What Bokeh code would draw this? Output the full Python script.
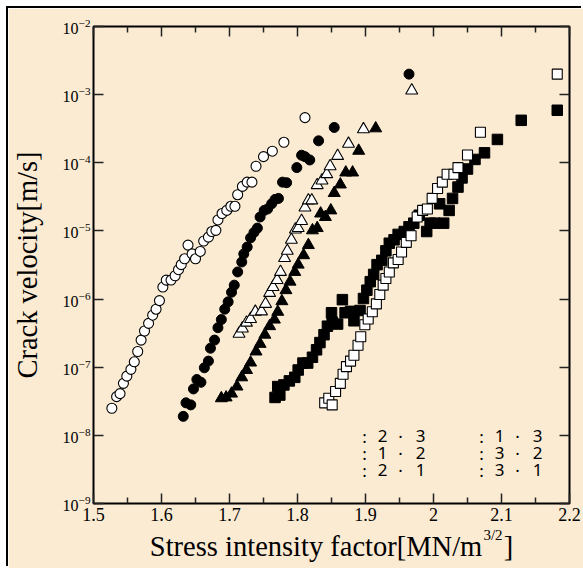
from bokeh.plotting import figure
from bokeh.models import (FixedTicker, LinearAxis, LogAxis, Label, Range1d,
                          CustomJSTickFormatter, LogTickFormatter)
from bokeh.embed import file_html
from bokeh.resources import INLINE

# ---------------- data ----------------
x_ticks = [1.5, 1.6, 1.7, 1.8, 1.9, 2.0, 2.1, 2.2]
x_tick_labels = ["1.5", "1.6", "1.7", "1.8", "1.9", "2", "2.1", "2.2"]
x_minor_ticks = [1.55, 1.65, 1.75, 1.85, 1.95, 2.05, 2.15]
y_tick_exponents = [-9, -8, -7, -6, -5, -4, -3, -2]

open_circle_x = [1.527, 1.534, 1.539, 1.544, 1.549, 1.555, 1.560, 1.565, 1.570, 1.575,
                 1.581, 1.587, 1.592, 1.597, 1.602, 1.607, 1.614, 1.620, 1.625, 1.629,
                 1.634, 1.639, 1.645, 1.650, 1.657, 1.662, 1.669, 1.674, 1.680, 1.683,
                 1.689, 1.696, 1.702, 1.708, 1.712, 1.719, 1.726, 1.733, 1.739, 1.750,
                 1.763, 1.780, 1.811]
open_circle_y = [2.5e-8, 3.7e-8, 4.1e-8, 5.8e-8, 7.4e-8, 9.3e-8, 1.2e-7, 1.7e-7, 2.5e-7, 3.4e-7,
                 4.4e-7, 5.8e-7, 7.1e-7, 9.5e-7, 1.5e-6, 1.9e-6, 1.9e-6, 2.2e-6, 2.7e-6, 3.2e-6,
                 3.9e-6, 6.2e-6, 4.6e-6, 3.9e-6, 5.0e-6, 7.1e-6, 8.1e-6, 9.8e-6, 1.02e-5, 1.45e-5,
                 1.8e-5, 2.0e-5, 2.3e-5, 2.3e-5, 3.4e-5, 4.5e-5, 5.2e-5, 5.2e-5, 8.9e-5, 1.23e-4,
                 1.48e-4, 2.0e-4, 4.6e-4]

filled_circle_x = [1.632, 1.636, 1.643, 1.647, 1.652, 1.658, 1.663, 1.669, 1.672, 1.678,
                   1.683, 1.688, 1.693, 1.698, 1.703, 1.707, 1.712, 1.718, 1.721, 1.726,
                   1.731, 1.736, 1.741, 1.745, 1.751, 1.756, 1.762, 1.767, 1.772, 1.778,
                   1.784, 1.799, 1.806, 1.811, 1.818, 1.831, 1.854, 1.964]
filled_circle_y = [1.9e-8, 3.0e-8, 2.8e-8, 4.8e-8, 6.6e-8, 6.0e-8, 9.8e-8, 1.23e-7, 1.9e-7, 2.5e-7,
                   3.8e-7, 5.0e-7, 7.1e-7, 9.1e-7, 1.26e-6, 1.6e-6, 2.5e-6, 3.5e-6, 4.6e-6, 5.8e-6,
                   7.9e-6, 9.5e-6, 1.1e-5, 1.6e-5, 2.0e-5, 2.1e-5, 2.5e-5, 2.9e-5, 3.0e-5, 5.2e-5,
                   5.1e-5, 8.5e-5, 1.29e-4, 1.23e-4, 1.1e-4, 2.1e-4, 3.3e-4, 2.0e-3]

open_triangle_x = [1.714, 1.719, 1.725, 1.731, 1.738, 1.747, 1.753, 1.759, 1.764, 1.770,
                   1.775, 1.781, 1.785, 1.791, 1.797, 1.801, 1.806, 1.811, 1.816, 1.821,
                   1.829, 1.836, 1.843, 1.848, 1.859, 1.875, 1.897, 1.968]
open_triangle_y = [3.1e-7, 3.7e-7, 4.5e-7, 5.1e-7, 6.5e-7, 6.6e-7, 8.5e-7, 1.23e-6, 1.5e-6, 1.9e-6,
                   2.5e-6, 4.0e-6, 5.1e-6, 7.4e-6, 1.05e-5, 1.1e-5, 1.4e-5, 2.2e-5, 2.8e-5, 2.8e-5,
                   4.7e-5, 5.5e-5, 6.8e-5, 8.9e-5, 1.26e-4, 1.9e-4, 3.1e-4, 1.15e-3]

filled_triangle_x = [1.688, 1.695, 1.703, 1.711, 1.718, 1.725, 1.731, 1.739, 1.745, 1.752,
                     1.759, 1.766, 1.771, 1.777, 1.783, 1.789, 1.796, 1.801, 1.809, 1.816,
                     1.822, 1.829, 1.834, 1.841, 1.849, 1.854, 1.863, 1.871, 1.881, 1.890,
                     1.915]
filled_triangle_y = [3.5e-8, 3.6e-8, 4.1e-8, 5.2e-8, 7.1e-8, 9.1e-8, 1.17e-7, 1.7e-7, 2.2e-7, 3.0e-7,
                     4.0e-7, 5.0e-7, 6.5e-7, 9.3e-7, 1.35e-6, 1.8e-6, 2.5e-6, 3.2e-6, 4.4e-6, 6.2e-6,
                     1.02e-5, 1.1e-5, 1.8e-5, 1.6e-5, 2.0e-5, 3.6e-5, 4.8e-5, 7.2e-5, 7.2e-5, 1.5e-4,
                     3.2e-4]

filled_square_x = [1.767, 1.774, 1.771, 1.780, 1.788, 1.796, 1.801, 1.808, 1.815, 1.822,
                   1.828, 1.833, 1.839, 1.844, 1.851, 1.859, 1.850, 1.866, 1.870, 1.878,
                   1.883, 1.892, 1.897, 1.902, 1.907, 1.912, 1.917, 1.924, 1.930, 1.935,
                   1.942, 1.948, 1.957, 1.964, 1.971, 1.979, 1.990, 1.995, 2.002, 2.009,
                   2.015, 2.023, 2.028, 2.036, 2.042, 2.050, 2.061, 2.075, 2.094, 2.129,
                   2.182]
filled_square_y = [3.6e-8, 3.9e-8, 5.2e-8, 5.5e-8, 6.3e-8, 7.1e-8, 9.1e-8, 1.15e-7, 1.15e-7, 1.4e-7,
                   1.8e-7, 2.3e-7, 3.0e-7, 4.0e-7, 4.6e-7, 4.3e-7, 6.3e-7, 9.8e-7, 6.3e-7, 6.6e-7,
                   4.8e-7, 6.8e-7, 1.02e-6, 1.35e-6, 1.8e-6, 2.3e-6, 3.2e-6, 3.7e-6, 5.1e-6, 6.6e-6,
                   7.4e-6, 8.9e-6, 9.8e-6, 1.15e-5, 1.3e-5, 1.7e-5, 9.8e-6, 1.3e-5, 1.3e-5, 2.5e-5,
                   1.3e-5, 2.0e-5, 3.0e-5, 4.4e-5, 6.0e-5, 8.1e-5, 1.12e-4, 1.4e-4, 2.2e-4, 4.2e-4,
                   5.9e-4]

open_square_x = [1.840, 1.846, 1.851, 1.856, 1.863, 1.867, 1.872, 1.878, 1.883, 1.889,
                 1.893, 1.899, 1.904, 1.910, 1.916, 1.921, 1.926, 1.930, 1.935, 1.941,
                 1.948, 1.953, 1.960, 1.967, 1.976, 1.984, 1.991, 1.998, 2.006, 2.013,
                 2.020, 2.030, 2.036, 2.050, 2.069, 2.182]
open_square_y = [3.0e-8, 3.5e-8, 2.8e-8, 4.4e-8, 5.8e-8, 7.9e-8, 1.02e-7, 1.23e-7, 1.5e-7, 2.1e-7,
                 2.8e-7, 4.2e-7, 5.1e-7, 6.5e-7, 8.5e-7, 1.17e-6, 1.6e-6, 2.0e-6, 2.5e-6, 3.4e-6,
                 3.8e-6, 4.9e-6, 6.8e-6, 8.5e-6, 1.6e-5, 2.0e-5, 2.1e-5, 3.0e-5, 4.2e-5, 5.2e-5,
                 6.8e-5, 6.8e-5, 8.5e-5, 1.3e-4, 2.8e-4, 2.0e-3]

legend_left = [("2", "3"), ("1", "2"), ("2", "1")]
legend_right = [("1", "3"), ("3", "2"), ("3", "1")]

x_label_main = "Stress intensity factor[MN/m"
x_label_sup = "3/2"
x_label_end = "]"
y_label = "Crack velocity[m/s]"

# ---------------- styling ----------------
BG = "#FBEBD3"
SERIF = "Liberation Serif"
SANS = "Noto Sans"

p = figure(width=575, height=560,
           x_range=Range1d(1.5, 2.2), y_range=Range1d(1e-9, 1e-2),
           y_axis_type="log", output_backend="svg", toolbar_location=None,
           min_border_left=85, min_border_right=14, min_border_top=18, min_border_bottom=65,
           background_fill_color=BG, border_fill_color=BG,
           outline_line_color="black", outline_line_width=2)
p.styles = {"margin-left": "8px", "margin-top": "8px",
            "box-shadow": "-2px -2px 0 0 #000"}
p.grid.visible = False

xticker = FixedTicker(ticks=x_ticks, minor_ticks=x_minor_ticks)
yticker = FixedTicker(ticks=[10.0 ** e for e in y_tick_exponents], minor_ticks=[])
blank = CustomJSTickFormatter(code="return ''")

p.add_layout(LinearAxis(), "above")
p.add_layout(LogAxis(), "right")

for ax in p.axis:
    ax.axis_line_color = None
    ax.major_tick_in = 10
    ax.major_tick_out = 0
    ax.minor_tick_in = 6
    ax.minor_tick_out = 0
    ax.major_tick_line_color = "#222222"
    ax.minor_tick_line_color = "#222222"
    ax.major_tick_line_width = 1.5
    ax.minor_tick_line_width = 1.5
    ax.major_label_standoff = 0
    ax.formatter = blank

for ax in p.xaxis:
    ax.ticker = xticker
for ax in p.yaxis:
    ax.ticker = yticker

# bottom axis: tick labels
bottom = p.below[0]
bottom.formatter = CustomJSTickFormatter(
    args=dict(tvals=x_ticks, tlabels=x_tick_labels),
    code="""
    let best = 0;
    for (let i = 0; i < tvals.length; i++) {
        if (Math.abs(tvals[i] - tick) < Math.abs(tvals[best] - tick)) best = i;
    }
    return tlabels[best];
    """)
bottom.major_label_text_font_size = "18px"
bottom.major_label_text_font = SERIF
bottom.major_label_text_color = "black"
bottom.major_label_standoff = 4

# second bottom axis carries the x title, with the 3/2 exponent as its single tick label
title_axis = LinearAxis(ticker=FixedTicker(ticks=[2.0875], minor_ticks=[]),
                        formatter=CustomJSTickFormatter(args=dict(s=x_label_sup), code="return s"))
title_axis.axis_line_color = None
title_axis.major_tick_in = 0
title_axis.major_tick_out = 0
title_axis.minor_tick_in = 0
title_axis.minor_tick_out = 0
title_axis.major_label_text_font = SERIF
title_axis.major_label_text_font_size = "15px"
title_axis.major_label_text_color = "black"
title_axis.major_label_standoff = 3
title_axis.axis_label = x_label_main + "\u00a0\u00a0\u00a0" + x_label_end
title_axis.axis_label_text_font = SERIF
title_axis.axis_label_text_font_size = "28.5px"
title_axis.axis_label_text_font_style = "normal"
title_axis.axis_label_text_color = "black"
title_axis.axis_label_standoff = -15
p.add_layout(title_axis, "below")

# left axis: 10^n labels and the y title
left = p.left[0]
left.formatter = LogTickFormatter()
left.major_label_text_font = SERIF
left.major_label_text_font_size = "16px"
left.major_label_text_color = "black"
left.major_label_standoff = 3
left.axis_label = y_label
left.axis_label_text_font = SERIF
left.axis_label_text_font_size = "28.5px"
left.axis_label_text_font_style = "normal"
left.axis_label_text_color = "black"
left.axis_label_standoff = 17

# data
p.scatter(open_circle_x, open_circle_y, marker="circle", size=10,
          fill_color="white", line_color="black", line_width=1.1)
p.scatter(filled_circle_x, filled_circle_y, marker="circle", size=10,
          fill_color="black", line_color="black", line_width=1)
p.scatter(open_triangle_x, open_triangle_y, marker="triangle", size=12,
          fill_color="white", line_color="black", line_width=1.1)
p.scatter(filled_triangle_x, filled_triangle_y, marker="triangle", size=12,
          fill_color="black", line_color="black", line_width=1)
p.scatter(filled_square_x, filled_square_y, marker="square", size=10.5,
          fill_color="black", line_color="black", line_width=1)
p.scatter(open_square_x, open_square_y, marker="square", size=10,
          fill_color="white", line_color="black", line_width=1.1)

# legend text (markers absent in original)
piece_offsets = [0, 18, 36, 56]
row_offsets = [-1, -18, -35]
for col_x, col_dx, rows in [(1.9, -1, legend_left), (2.0, 48, legend_right)]:
    for (a, b), dy in zip(rows, row_offsets):
        for txt, off in zip([":", a, "\u00b7", b], piece_offsets):
            p.add_layout(Label(x=col_x, y=1e-8, text=txt, x_offset=col_dx + off, y_offset=dy,
                               text_align="center", text_baseline="alphabetic",
                               text_font=SANS, text_font_size="17px", text_color="black"))

open("out.html", "w").write(file_html(p, INLINE))
